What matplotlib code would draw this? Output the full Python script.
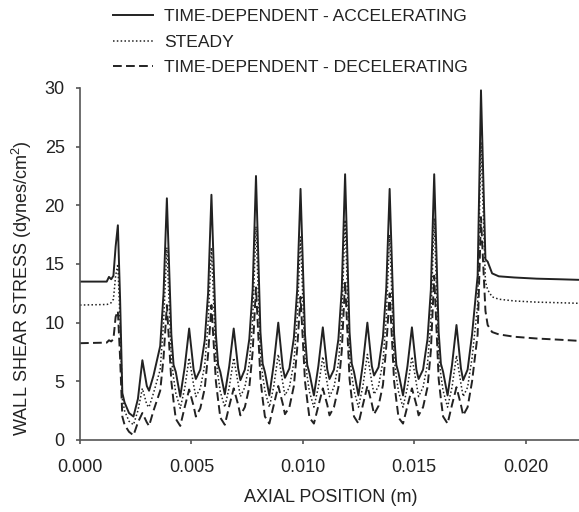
import matplotlib
matplotlib.use('Agg')
import matplotlib.pyplot as plt

plt.rcParams['font.family'] = ['Liberation Sans', 'DejaVu Sans']
plt.rcParams['mathtext.fontset'] = 'custom'
plt.rcParams['mathtext.rm'] = 'Liberation Sans'

# axial position (m)
x = [0.0000, 0.0012, 0.0013, 0.0014, 0.0015, 0.0016, 0.0017, 0.0018, 0.0019, 0.0020,
     0.0022, 0.0024, 0.0026, 0.0028, 0.0030, 0.0031, 0.0033, 0.0036, 0.00375,
     0.0039, 0.0041, 0.0042, 0.0043, 0.0045, 0.0047, 0.0049, 0.0051, 0.0052, 0.0054, 0.0056, 0.00575,
     0.0059, 0.0061, 0.0062, 0.0063, 0.0065, 0.0067, 0.0069, 0.0071, 0.0072, 0.0074, 0.0076, 0.00775,
     0.0079, 0.0081, 0.0082, 0.0083, 0.0085, 0.0087, 0.0089, 0.0091, 0.0092, 0.0094, 0.0096, 0.00975,
     0.0099, 0.0101, 0.0102, 0.0103, 0.0105, 0.0107, 0.0109, 0.0111, 0.0112, 0.0114, 0.0116, 0.01175,
     0.0119, 0.0121, 0.0122, 0.0123, 0.0125, 0.0127, 0.0129, 0.0131, 0.0132, 0.0134, 0.0136, 0.01375,
     0.0139, 0.0141, 0.0142, 0.0143, 0.0145, 0.0147, 0.0149, 0.0151, 0.0152, 0.0154, 0.0156, 0.01575,
     0.0159, 0.0161, 0.0162, 0.0163, 0.0165, 0.0167, 0.0169, 0.0171, 0.0172, 0.0174, 0.0176, 0.01785,
     0.0180, 0.0182, 0.0183, 0.0185, 0.0188, 0.0195, 0.0205, 0.0215, 0.0224]

accelerating = [13.5, 13.5, 13.9, 13.7, 14.0, 16.5, 18.3, 12.0, 4.0, 3.2,
                2.3, 2.0, 3.5, 6.8, 4.6, 4.2, 5.5, 8.0, 12.5,
                20.6, 9.0, 6.4, 5.8, 3.7, 6.2, 9.5, 6.0, 5.2, 6.0, 8.5, 12.5,
                20.9, 9.0, 6.4, 5.8, 3.9, 6.3, 9.5, 6.1, 5.1, 6.0, 8.6, 12.8,
                22.5, 9.2, 6.5, 5.8, 3.8, 6.5, 10.0, 6.2, 5.3, 6.1, 8.7, 12.8,
                21.4, 9.0, 6.4, 5.7, 3.8, 6.3, 9.6, 6.0, 5.2, 6.0, 8.6, 12.8,
                22.65, 9.2, 6.5, 5.8, 3.8, 6.5, 10.0, 6.3, 5.5, 6.2, 8.8, 13.0,
                21.4, 9.0, 6.4, 5.7, 3.8, 6.3, 9.6, 6.0, 5.2, 6.0, 8.6, 12.8,
                22.65, 9.2, 6.5, 5.8, 3.8, 6.4, 9.8, 6.1, 5.1, 6.0, 9.0, 14.0,
                29.8, 15.4, 15.2, 14.2, 13.95, 13.85, 13.75, 13.7, 13.65]

steady = [11.5, 11.55, 11.6, 11.7, 12.0, 14.0, 15.0, 10.0, 3.5, 2.5,
          1.6, 1.3, 2.5, 4.4, 3.0, 2.8, 4.0, 6.0, 10.0,
          16.4, 7.0, 5.3, 4.0, 2.7, 4.4, 7.0, 4.7, 3.7, 4.4, 6.4, 10.0,
          16.4, 7.0, 5.4, 4.1, 2.8, 4.5, 7.0, 4.8, 3.7, 4.5, 6.5, 10.2,
          18.2, 7.2, 5.5, 4.2, 2.8, 4.6, 7.3, 4.9, 3.8, 4.5, 6.6, 10.4,
          17.3, 7.0, 5.4, 4.1, 2.8, 4.5, 7.1, 4.8, 3.7, 4.5, 6.5, 10.2,
          18.75, 7.2, 5.5, 4.2, 2.8, 4.6, 7.3, 4.9, 3.9, 4.6, 6.7, 10.5,
          17.5, 7.0, 5.4, 4.1, 2.8, 4.5, 7.1, 4.8, 3.7, 4.5, 6.5, 10.2,
          18.9, 7.2, 5.5, 4.2, 2.8, 4.5, 7.2, 4.8, 3.7, 4.5, 7.0, 11.5,
          25.4, 13.5, 12.8, 12.2, 12.0, 11.85, 11.75, 11.7, 11.65]

decelerating = [8.25, 8.3, 8.5, 8.4, 8.6, 10.5, 11.0, 7.0, 2.0, 1.3,
                0.7, 0.4, 1.5, 2.3, 1.5, 1.2, 2.5, 4.2, 7.0,
                11.5, 5.0, 3.3, 1.8, 1.2, 2.8, 4.3, 2.9, 2.0, 2.7, 4.4, 7.3,
                11.5, 5.0, 3.4, 1.9, 1.3, 2.9, 4.4, 3.0, 2.1, 2.8, 4.5, 7.5,
                13.0, 5.2, 3.5, 2.0, 1.4, 3.0, 4.6, 3.1, 2.2, 2.8, 4.6, 7.8,
                12.2, 5.0, 3.4, 1.9, 1.4, 2.9, 4.4, 3.0, 2.1, 2.8, 4.5, 7.6,
                13.5, 5.2, 3.5, 2.0, 1.4, 3.0, 4.6, 3.1, 2.2, 2.9, 4.7, 8.0,
                12.5, 5.0, 3.4, 1.9, 1.4, 2.9, 4.4, 3.0, 2.1, 2.8, 4.5, 7.6,
                14.0, 5.2, 3.5, 2.0, 1.4, 3.0, 4.5, 3.0, 2.1, 2.8, 5.0, 9.0,
                19.0, 11.0, 9.8, 9.2, 9.0, 8.8, 8.65, 8.55, 8.45]

labels = ['TIME-DEPENDENT - ACCELERATING', 'STEADY', 'TIME-DEPENDENT - DECELERATING']
x_ticks = [0.000, 0.005, 0.010, 0.015, 0.020]
y_ticks = [0, 5, 10, 15, 20, 25, 30]

ink = '#222222'
axis_col = '#555555'

fig = plt.figure(figsize=(5.79, 5.12), dpi=100)
ax = fig.add_axes([80 / 579, 72 / 512, 499 / 579, 352 / 512])

l1, = ax.plot(x, accelerating, color=ink, lw=1.4, ls='-')
l2, = ax.plot(x, steady, color=ink, lw=1.1, ls=(0, (1, 1.5)))
l3, = ax.plot(x, decelerating, color=ink, lw=1.4, ls=(0, (4.5, 2.2)))

ax.set_xlim(0, 0.0224)
ax.set_ylim(0, 30)
ax.set_xticks(x_ticks)
ax.set_xticklabels([f'{v:.3f}' for v in x_ticks])
ax.set_yticks(y_ticks)
for s in ['top', 'right']:
    ax.spines[s].set_visible(False)
for s in ['left', 'bottom']:
    ax.spines[s].set_color(axis_col)
    ax.spines[s].set_linewidth(1.2)
ax.tick_params(direction='out', length=3, width=1.2, color=axis_col,
               labelsize=13, labelcolor=ink)
ax.tick_params(axis='x', pad=11)
ax.tick_params(axis='y', pad=8)

fig.text(331 / 579, 1 - 498 / 512, 'AXIAL POSITION (m)', ha='center', va='center',
         fontsize=13, color=ink)
fig.text(22 / 579, 1 - 288 / 512, 'WALL SHEAR STRESS (dynes/cm$^2$)', ha='center',
         va='center', rotation=90, fontsize=13, color=ink)

fig.legend([l1, l2, l3], labels, loc='upper left', bbox_to_anchor=(113 / 579, 1 - 9 / 512),
           frameon=False, fontsize=12.6, handlelength=2.3, handletextpad=0.6,
           labelspacing=0.58, borderpad=0, borderaxespad=0, labelcolor=ink)

fig.savefig('out.png', dpi=100)
